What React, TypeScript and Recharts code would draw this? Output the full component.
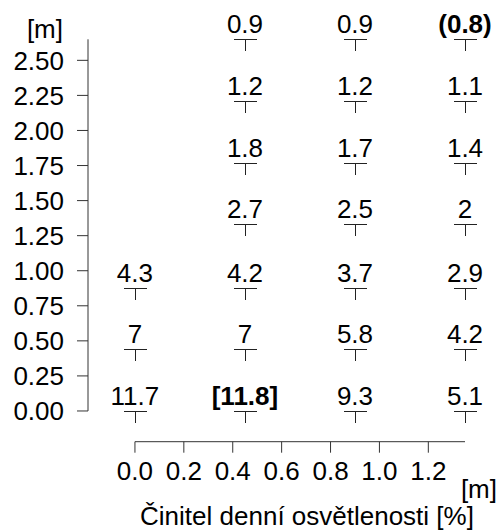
import { ScatterChart, Scatter, XAxis, YAxis, ReferenceLine, Label } from "recharts";

// measuring grid positions [m]
const colX = [0, 0.45, 0.9, 1.35];
const rowY = [0, 0.44, 0.88, 1.33, 1.77, 2.21, 2.65];

// daylight factor values per column, from the bottom row up
const col0 = ["11.7", "7", "4.3"];
const col1 = ["[11.8]", "7", "4.2", "2.7", "1.8", "1.2", "0.9"];
const col2 = ["9.3", "5.8", "3.7", "2.5", "1.7", "1.2", "0.9"];
const col3 = ["5.1", "4.2", "2.9", "2", "1.4", "1.1", "(0.8)"];
const columns = [col0, col1, col2, col3];
const boldLabels = ["[11.8]", "(0.8)"];

const xTicks = [0, 0.2, 0.4, 0.6, 0.8, 1.0, 1.2];
const yTicks = [0, 0.25, 0.5, 0.75, 1.0, 1.25, 1.5, 1.75, 2.0, 2.25, 2.5];

// domain extents leave room for the detached axes
const X_MIN = -0.192;
const Y_MIN = -0.219;
const X_MAX = colX[colX.length - 1];
const Y_MAX = rowY[rowY.length - 1];

const points = columns.flatMap((col, i) =>
  col.map((label, j) => ({ x: colX[i], y: rowY[j], label }))
);

const INK = "#333";
const FONT = 26;

function TMarker(props: any) {
  const { cx, cy, payload } = props;
  const bold = boldLabels.includes(payload.label);
  // snap to the pixel grid so the thin strokes stay crisp
  const px = Math.round(cx) + 0.5;
  const py = Math.round(cy) + 0.5;
  return (
    <g>
      <line x1={px - 11.5} x2={px + 11.5} y1={py} y2={py} stroke="#222" strokeWidth={1} />
      <line x1={px} x2={px} y1={py} y2={py + 11.5} stroke="#222" strokeWidth={1} />
      <text
        x={cx}
        y={cy - 6}
        textAnchor="middle"
        fontSize={FONT}
        fontWeight={bold ? 700 : 400}
        fill="#000"
      >
        {payload.label}
      </text>
    </g>
  );
}

export default function App() {
  return (
    <div
      style={{
        position: "absolute",
        left: 0,
        top: 0,
        width: 501,
        height: 531,
        background: "#fff",
        fontFamily: "'Liberation Sans', Arial, sans-serif",
      }}
    >
      <ScatterChart width={501} height={531} margin={{ top: 39.3, right: 36, bottom: 0, left: 0 }}>
        <XAxis
          type="number"
          dataKey="x"
          domain={[X_MIN, X_MAX]}
          ticks={xTicks}
          interval={0}
          tickFormatter={(v: number) => v.toFixed(1)}
          axisLine={false}
          tickLine={{ stroke: INK }}
          tickSize={11}
          tickMargin={9}
          tick={{ fill: "#000", fontSize: FONT }}
          height={89.3}
        >
          <Label
            content={() => (
              <g>
                <text x={497} y={498} textAnchor="end" fontSize={FONT} fill="#000">
                  [m]
                </text>
                <text x={307} y={525} textAnchor="middle" fontSize={FONT} fill="#000">
                  Činitel denní osvětlenosti [%]
                </text>
              </g>
            )}
          />
        </XAxis>
        <YAxis
          type="number"
          dataKey="y"
          domain={[Y_MIN, Y_MAX]}
          ticks={yTicks}
          interval={0}
          tickFormatter={(v: number) => v.toFixed(2)}
          axisLine={false}
          tickLine={{ stroke: INK }}
          tickSize={11}
          tickMargin={13}
          tick={{ fill: "#000", fontSize: FONT }}
          width={88}
        >
          <Label
            content={() => (
              <text x={63} y={38} textAnchor="end" fontSize={FONT} fill="#000">
                [m]
              </text>
            )}
          />
        </YAxis>
        <ReferenceLine
          segment={[{ x: X_MIN, y: 0 }, { x: X_MIN, y: Y_MAX }]}
          stroke={INK}
          ifOverflow="visible"
        />
        <ReferenceLine
          segment={[{ x: 0, y: Y_MIN }, { x: X_MAX, y: Y_MIN }]}
          stroke={INK}
          ifOverflow="visible"
        />
        <Scatter data={points} shape={<TMarker />} isAnimationActive={false} />
      </ScatterChart>
    </div>
  );
}
